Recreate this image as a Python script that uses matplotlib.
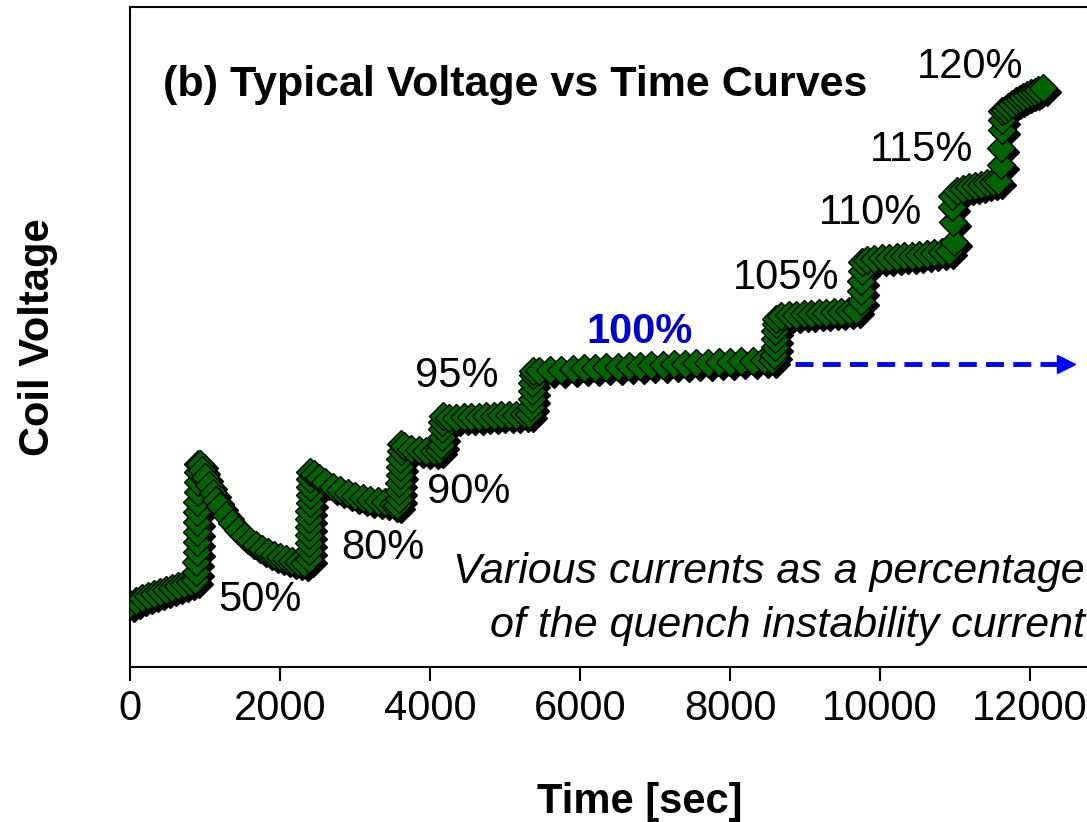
import matplotlib
matplotlib.use("Agg")
import matplotlib.pyplot as plt
from matplotlib.transforms import offset_copy

# ================= DATA =================
# time [sec] and coil voltage (arbitrary units, no scale shown)
ramp_t = [0, 80, 160, 240, 320, 400, 480, 560, 640, 720, 800, 860]
ramp_v = [0.63, 0.66, 0.69, 0.71, 0.73, 0.75, 0.77, 0.79, 0.81, 0.83, 0.85, 0.87]

jump1_t = [884, 886, 888, 890, 892, 894, 896, 898, 900, 902, 904, 906]
jump1_v = [0.95, 1.05, 1.15, 1.25, 1.35, 1.45, 1.55, 1.65, 1.75, 1.85, 1.95, 2.03]
decay1_t = [930, 960, 1000, 1050, 1100, 1150, 1200, 1280, 1360, 1440, 1520, 1600,
            1680, 1760, 1840, 1920, 2000, 2080, 2160, 2240, 2320]
decay1_v = [2.03, 1.97, 1.90, 1.82, 1.74, 1.67, 1.61, 1.52, 1.44, 1.37, 1.31, 1.26,
            1.22, 1.18, 1.15, 1.12, 1.10, 1.08, 1.06, 1.05, 1.04]

jump2_t = [2380, 2382, 2384, 2386, 2388, 2390, 2392, 2394, 2396, 2398, 2400, 2402]
jump2_v = [1.08, 1.16, 1.24, 1.32, 1.40, 1.48, 1.56, 1.64, 1.72, 1.80, 1.88, 1.95]
decay2_t = [2450, 2520, 2600, 2700, 2800, 2900, 3000, 3100, 3200, 3300, 3400, 3500, 3560]
decay2_v = [1.93, 1.89, 1.85, 1.80, 1.77, 1.74, 1.71, 1.69, 1.67, 1.66, 1.65, 1.63, 1.62]

jump3_t = [3580, 3585, 3590, 3595, 3600, 3605, 3610, 3615]
jump3_v = [1.68, 1.76, 1.84, 1.92, 2.00, 2.08, 2.16, 2.23]
flat90_t = [3650, 3750, 3850, 3950, 4050, 4120]
flat90_v = [2.21, 2.18, 2.17, 2.16, 2.16, 2.17]

jump4_t = [4150, 4155, 4160, 4165, 4170]
jump4_v = [2.22, 2.30, 2.38, 2.45, 2.51]
flat95_t = [4250, 4350, 4450, 4550, 4650, 4750, 4850, 4950, 5050, 5150, 5250, 5320]
flat95_v = [2.49, 2.49, 2.50, 2.50, 2.50, 2.51, 2.51, 2.52, 2.52, 2.52, 2.53, 2.53]

jump5_t = [5350, 5355, 5360, 5365, 5370, 5375]
jump5_v = [2.60, 2.68, 2.76, 2.84, 2.92, 2.96]
flat100_t = [5450, 5600, 5750, 5900, 6050, 6200, 6350, 6500, 6650, 6800, 6950, 7100,
             7250, 7400, 7550, 7700, 7850, 8000, 8150, 8300, 8450, 8560]
flat100_v = [2.96, 2.97, 2.97, 2.98, 2.99, 2.99, 3.00, 3.00, 3.01, 3.01, 3.02, 3.02,
             3.03, 3.03, 3.04, 3.04, 3.05, 3.05, 3.06, 3.06, 3.07, 3.07]

jump6_t = [8590, 8595, 8600, 8605, 8610, 8615]
jump6_v = [3.12, 3.20, 3.28, 3.36, 3.43, 3.48]
flat105_t = [8680, 8780, 8880, 8980, 9080, 9180, 9280, 9380, 9480, 9580, 9680]
flat105_v = [3.51, 3.52, 3.52, 3.53, 3.53, 3.54, 3.54, 3.55, 3.55, 3.56, 3.57]

jump7_t = [9740, 9745, 9750, 9755, 9760]
jump7_v = [3.66, 3.76, 3.86, 3.96, 4.05]
flat110_t = [9820, 9920, 10020, 10120, 10220, 10320, 10420, 10520, 10620, 10720, 10820, 10920]
flat110_v = [4.07, 4.08, 4.09, 4.09, 4.10, 4.11, 4.11, 4.12, 4.13, 4.14, 4.15, 4.16]

jump8_t = [10980, 10970, 10960, 10955]
jump8_v = [4.25, 4.45, 4.60, 4.71]
flat115_t = [11020, 11100, 11180, 11260, 11340, 11420, 11500, 11570]
flat115_v = [4.76, 4.78, 4.80, 4.81, 4.82, 4.84, 4.85, 4.86]

jump9_t = [11610, 11615, 11620, 11625, 11630]
jump9_v = [5.02, 5.19, 5.37, 5.47, 5.56]
flat120_t = [11660, 11710, 11760, 11810, 11860, 11910, 11960, 12010, 12060, 12110, 12170]
flat120_v = [5.57, 5.60, 5.63, 5.66, 5.68, 5.70, 5.72, 5.74, 5.75, 5.77, 5.79]

time_sec = (ramp_t + jump1_t + decay1_t + jump2_t + decay2_t + jump3_t + flat90_t
            + jump4_t + flat95_t + jump5_t + flat100_t + jump6_t + flat105_t
            + jump7_t + flat110_t + jump8_t + flat115_t + jump9_t + flat120_t)
coil_v = (ramp_v + jump1_v + decay1_v + jump2_v + decay2_v + jump3_v + flat90_v
          + jump4_v + flat95_v + jump5_v + flat100_v + jump6_v + flat105_v
          + jump7_v + flat110_v + jump8_v + flat115_v + jump9_v + flat120_v)

# percentage labels: (text, time, voltage)
pct_labels = ["50%", "80%", "90%", "95%", "105%", "110%", "115%", "120%"]
pct_t = [1733, 3373, 4520, 4360, 8747, 9867, 10560, 11200]
pct_v = [0.67, 1.19, 1.75, 2.91, 3.89, 4.54, 5.17, 6.00]

x_ticks = [0, 2000, 4000, 6000, 8000, 10000, 12000]
arrow_t = [8870, 12380]
arrow_v = 3.03
# =================================================================

FS = 30  # font size for labels and ticks
FS_BIG = 31  # title and the italic note

plt.rcParams['font.family'] = ['Liberation Sans', 'DejaVu Sans']

fig = plt.figure(figsize=(10.87, 8.22), dpi=100)
# axes runs off the right edge of the picture, like the reference
ax = fig.add_axes([130 / 1087, 155 / 822, 1020 / 1087, 660 / 822])

# black drop shadow, then the green diamonds
shadow = offset_copy(ax.transData, fig=fig, x=4, y=-4, units='dots')
ax.plot(time_sec, coil_v, ls='none', marker='D', ms=14, color='black',
        transform=shadow, zorder=2)
ax.plot(time_sec, coil_v, ls='none', marker='D', ms=14, mfc='#006400',
        mec='black', mew=1.0, zorder=3)

ax.set_xlim(0, 13600)
ax.set_ylim(0, 6.6)
ax.set_xticks(x_ticks)
ax.set_yticks([])
ax.tick_params(axis='x', direction='out', length=10, width=1.5, pad=6, labelsize=FS)
for s in ax.spines.values():
    s.set_linewidth(1.5)

ax.set_xlabel("Time [sec]", fontsize=FS, fontweight='bold', labelpad=38)
ax.set_ylabel("Coil Voltage", fontsize=FS, fontweight='bold', labelpad=52)

ax.text(5133, 5.82, "(b) Typical Voltage vs Time Curves", fontsize=FS_BIG,
        fontweight='bold', ha='center', va='center')

for lab, t, v in zip(pct_labels, pct_t, pct_v):
    ax.text(t, v, lab, fontsize=FS, ha='center', va='center')
ax.text(6800, 3.35, "100%", fontsize=FS, fontweight='bold', color='#0000cc',
        ha='center', va='center')

ax.text(12733, 0.95, "Various currents as a percentage", fontsize=FS_BIG,
        style='italic', ha='right', va='center')
ax.text(12733, 0.41, "of the quench instability current", fontsize=FS_BIG,
        style='italic', ha='right', va='center')

# dashed blue arrow
ax.plot(arrow_t, [arrow_v, arrow_v], color='blue', lw=3.5, ls=(0, (3.7, 1.9)))
ax.plot(arrow_t[1] + 100, arrow_v, marker='>', ms=13, color='blue', mec='blue')

plt.savefig("out.png", dpi=100)
plt.close(fig)
